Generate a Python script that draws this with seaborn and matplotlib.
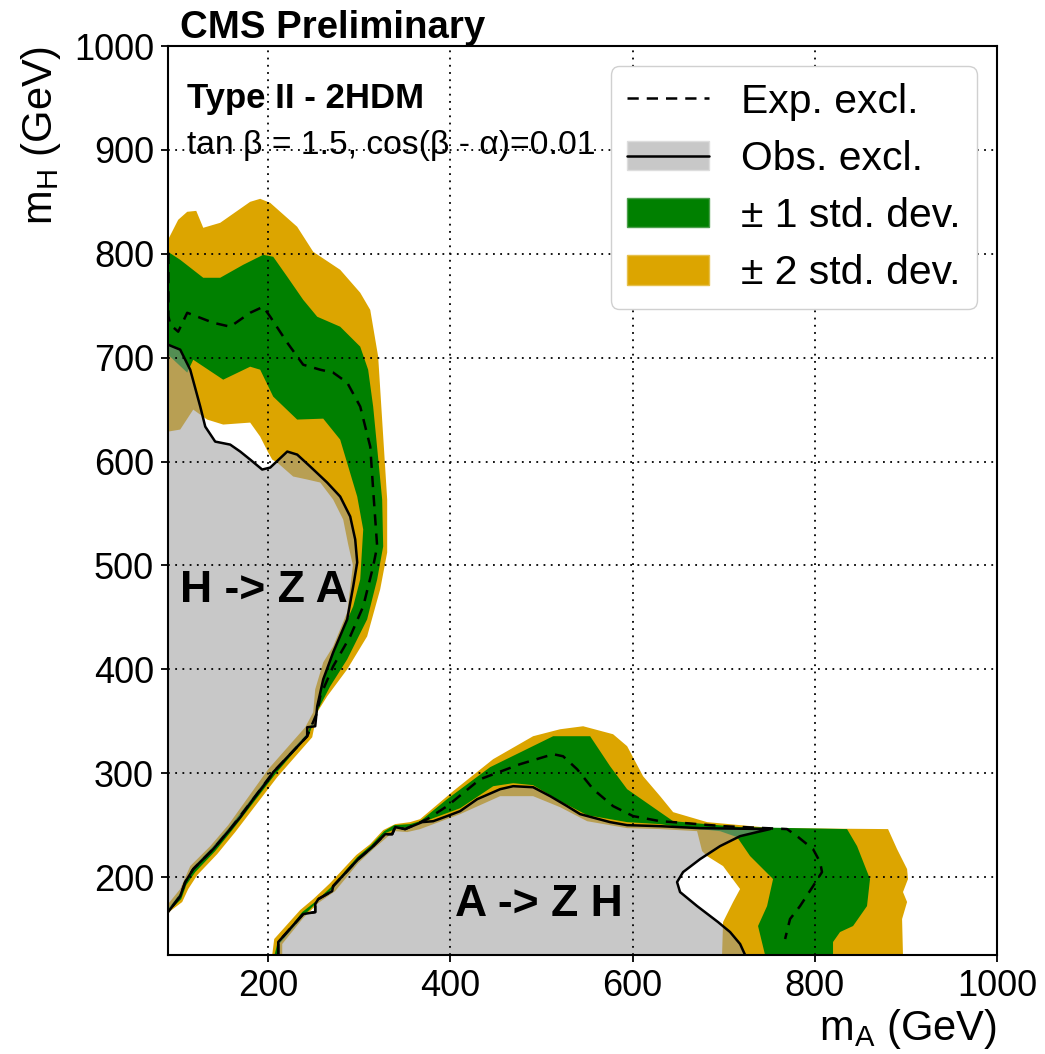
import numpy as np
import matplotlib
matplotlib.use("Agg")
import matplotlib.pyplot as plt
import seaborn as sns
from matplotlib.patches import Patch
from matplotlib.lines import Line2D

# ---------------------------------------------------------------------------
# Exclusion contours in the (mA, mH) plane, GeV
# ---------------------------------------------------------------------------

# H -> Z A : observed exclusion boundary
hza_obs_ma = [90, 103.4, 114.4, 125.4, 130.9, 141.8, 158.3, 169.3, 180.2, 193.4, 202.2, 220.9,
              231.8, 246.1, 264.7, 279.0, 290.0, 295.5, 297.7, 293.3, 286.7, 271.3, 260.4, 253.8,
              251.6, 242.8, 242.8, 205.5, 202.2, 183.5, 169.3, 158.3, 139.6, 117.7, 108.9, 103.4, 90]
hza_obs_mh = [712.5, 707.7, 688.4, 652.9, 633.6, 619.2, 616.3, 609.6, 601.9, 592.3, 594.2, 609.6,
              606.7, 595.2, 579.8, 566.3, 547.1, 525.0, 502.9, 479.8, 448.1, 416.3, 390.4, 364.4,
              345.2, 344.2, 335.6, 301.0, 296.2, 275.0, 257.7, 246.2, 226.9, 207.7, 195.2, 181.7, 166.3]

# H -> Z A : expected exclusion boundary
hza_exp_ma = [90.4, 90.4, 92.5, 101.2, 111.1, 139.6, 158.3, 180.2, 194.5, 202.2, 220.9, 238.4, 257.1,
              271.3, 286.7, 301.0, 312.0, 315.2, 319.6, 315.2, 304.3, 290.0, 271.3, 257.1, 253.8,
              242.8, 205.5, 183.5, 158.3, 139.6, 117.7, 108.9, 103.4, 90]
hza_exp_mh = [801, 740, 731.7, 725.0, 743.2, 733.6, 729.8, 743.2, 749.0, 739.4, 714.4, 693.2, 688.4,
              685.6, 676.0, 652.9, 614.4, 573.0, 518.3, 499.0, 460.6, 431.7, 402.9, 374.0, 358.6,
              335.6, 301.0, 275.0, 246.2, 226.9, 207.7, 195.2, 181.7, 166.3]

# H -> Z A : +-2 sigma band (outer edge, then inner edge)
hza_2s_out_ma = [90, 101.2, 111.1, 121.0, 128.7, 147.3, 180.2, 191.2, 202.2, 231.8, 249.4, 279.0,
                 301.0, 312.0, 320.7, 330.6, 330.6, 322.9, 308.6, 286.7, 264.7, 253.8, 248.3, 209.9,
                 163.8, 144.0, 122.1, 112.2, 105.6, 92.5, 90]
hza_2s_out_mh = [813.4, 832.7, 840.4, 841.3, 825.0, 829.8, 850.0, 852.9, 849.0, 826.0, 801.9, 784.6,
                 762.5, 746.0, 701.0, 563.4, 512.5, 476.9, 431.7, 400.0, 374.0, 358.6, 334.6, 296.2,
                 243.3, 222.1, 201.9, 188.5, 176.0, 167.3, 164.4]
hza_2s_in_ma = [90, 103.4, 114.4, 136.4, 156.1, 200.0, 240.6, 249.4, 251.6, 260.4, 271.3, 286.7,
                293.0, 287.8, 282.3, 271.3, 257.1, 242.8, 227.4, 209.9, 204.4, 200.0, 191.2, 180.2,
                150.6, 133.0, 117.7, 103.4, 90]
hza_2s_in_mh = [174.0, 188.5, 210.6, 229.8, 250.0, 303.8, 344.2, 358.6, 380.8, 406.7, 422.1, 454.8,
                500.0, 520.2, 544.2, 563.4, 579.8, 582.7, 585.6, 599.0, 601.9, 608.7, 624.0, 637.5,
                635.6, 640.4, 650.0, 630.8, 628.8]

# H -> Z A : +-1 sigma band
hza_1s_out_ma = [90, 103.4, 128.7, 147.3, 172.6, 194.5, 205.5, 220.9, 238.4, 253.8, 279.0, 301.0,
                 309.7, 315.2, 325.1, 326.2, 319.6, 308.6, 286.7, 268.0, 254.9, 245.0, 207.7, 160.5,
                 141.8, 119.9, 110.0, 104.5, 91.1]
hza_1s_out_mh = [801.9, 794.2, 776.9, 776.9, 789.4, 799.0, 797.1, 777.9, 755.7, 739.4, 729.8, 710.6,
                 688.4, 652.9, 563.4, 518.3, 486.5, 448.1, 409.6, 383.6, 361.5, 337.5, 299.0, 245.2,
                 225.0, 204.8, 192.3, 178.8, 167.3]
hza_1s_in_ma = [90, 103.4, 117.7, 139.6, 158.3, 202.2, 242.8, 253.8, 257.1, 264.7, 279.0, 293.3,
                301.0, 304.3, 297.7, 279.0, 260.4, 231.8, 205.5, 191.2, 180.2, 150.6, 117.7, 111.1, 90]
hza_1s_in_mh = [169.2, 184.6, 209.6, 229.8, 249.0, 299.0, 338.5, 359.6, 377.9, 402.9, 431.7, 460.6,
                486.5, 534.6, 566.3, 621.1, 641.3, 640.4, 662.5, 688.4, 691.3, 678.8, 698.0, 685.6, 702.9]

# A -> Z H : observed exclusion boundary
azh_obs_ma = [211, 211, 238.4, 251.6, 251.6, 254.9, 270.2, 271.3, 298.8, 314.1, 328.4, 336.1, 339.4,
              350.3, 358.0, 369.0, 381.1, 396.4, 410.7, 429.4, 454.6, 468.9, 490.8, 509.5, 528.1,
              542.4, 575.3, 594.0, 630.2, 674.1, 750.9, 736.6, 718.0, 696.0, 674.1, 655.4, 648.8,
              652.1, 670.8, 693.8, 707.0, 718.0, 723.5]
azh_obs_mh = [125, 137.5, 164.4, 166.3, 174.0, 178.8, 186.5, 191.3, 217.3, 228.8, 241.3, 241.3, 248.1,
              246.2, 249.0, 252.9, 253.8, 258.7, 263.5, 275.0, 284.6, 287.5, 286.5, 277.9, 268.3,
              260.6, 252.9, 250.0, 249.0, 247.1, 246.2, 243.3, 239.4, 229.8, 217.3, 204.8, 195.2,
              185.6, 172.1, 156.7, 147.1, 135.6, 125]

# A -> Z H : expected exclusion boundary
azh_exp_ma = [211, 211, 238.4, 251.6, 251.6, 254.9, 270.2, 271.3, 298.8, 314.1, 328.4, 336.1, 339.4,
              350.3, 374.5, 396.4, 432.6, 476.5, 512.8, 523.7, 539.1, 556.7, 578.6, 600.5, 630.2,
              644.5, 699.3, 769.5, 780.5, 798.1, 805.8, 807.9, 798.1, 783.8, 772.8, 767.4]
azh_exp_mh = [125, 137.5, 164.4, 166.3, 174.0, 178.8, 186.5, 191.3, 217.3, 228.8, 241.3, 241.3, 248.1,
              246.2, 255.8, 268.3, 294.2, 308.7, 318.3, 316.3, 303.8, 284.6, 268.3, 258.7, 253.8,
              252.9, 249.0, 246.2, 239.4, 226.9, 214.4, 204.8, 191.3, 172.1, 159.6, 140.4]

# A -> Z H : +-2 sigma band
azh_2s_out_ma = [204.4, 206.6, 235.1, 249.4, 268.0, 296.6, 311.9, 326.2, 339.4, 355.8, 366.8, 403.0,
                 446.9, 490.8, 520.4, 545.7, 578.6, 594.0, 611.5, 630.2, 644.5, 681.8, 754.2, 880.4,
                 890.3, 901.3, 902.3, 896.8, 901.3, 895.8, 896.8]
azh_2s_out_mh = [125, 140.4, 168.3, 178.8, 194.2, 221.2, 231.7, 245.2, 251.0, 252.9, 255.8, 282.7,
                 313.5, 335.6, 342.3, 345.2, 337.5, 326.0, 297.1, 277.9, 262.5, 252.9, 247.1, 246.2,
                 226.9, 207.7, 198.1, 185.6, 176.0, 159.6, 125]
azh_2s_in_ma = [698.2, 699.3, 710.3, 718.0, 699.3, 681.8, 676.3, 670.8, 630.2, 594.0, 550.1, 520.4,
                490.8, 454.6, 410.7, 366.8, 352.5, 339.4, 330.6, 314.1, 298.8, 273.5, 254.9, 238.4,
                215.4, 215.4]
azh_2s_in_mh = [125, 156.7, 176.0, 188.5, 210.6, 220.2, 225.0, 244.2, 246.2, 247.1, 253.8, 267.3,
                277.9, 277.9, 260.6, 246.2, 243.3, 244.2, 238.5, 226.0, 213.5, 186.5, 175.0, 160.6,
                135.6, 125]

# A -> Z H : +-1 sigma band
azh_1s_out_ma = [207.0, 209.9, 237.3, 252.7, 270.2, 297.7, 313.0, 327.3, 338.3, 355.8, 366.8, 396.4,
                 443.6, 512.8, 553.4, 575.3, 594.0, 630.2, 644.5, 718.0, 835.4, 846.4, 860.6, 857.3,
                 842.0, 827.7, 820.0, 820.0]
azh_1s_out_mh = [125, 135.6, 166.3, 176.9, 191.3, 219.2, 230.8, 244.2, 250.0, 251.0, 253.8, 275.0,
                 305.8, 335.6, 335.6, 306.7, 284.6, 262.5, 253.8, 248.1, 246.2, 229.8, 198.1, 172.1,
                 152.9, 147.1, 137.5, 125]
azh_1s_in_ma = [745.4, 737.7, 747.6, 754.2, 729.0, 714.7, 696.0, 652.1, 630.2, 594.0, 550.1, 520.4,
                490.8, 468.9, 447.0, 410.7, 381.1, 366.8, 352.5, 339.4, 328.4, 314.1, 298.8, 271.3,
                254.9, 238.4, 212.1, 212.1]
azh_1s_in_mh = [125, 152.9, 172.1, 198.1, 220.2, 238.5, 244.2, 248.1, 251.0, 252.9, 259.6, 273.1,
                288.5, 290.4, 287.5, 266.3, 256.7, 251.9, 248.1, 246.2, 242.3, 226.9, 215.4, 189.4,
                176.9, 162.5, 135.6, 125]

x_ticks = [200, 400, 600, 800, 1000]
y_ticks = [200, 300, 400, 500, 600, 700, 800, 900, 1000]
legend_labels = ["Exp. excl.", "Obs. excl.", "\u00b1 1 std. dev.", "\u00b1 2 std. dev."]

# ---------------------------------------------------------------------------
# Style
# ---------------------------------------------------------------------------
sns.set_theme(style="ticks")
plt.rcParams["font.family"] = ["Liberation Sans", "DejaVu Sans"]
plt.rcParams["mathtext.fontset"] = "custom"
plt.rcParams["mathtext.rm"] = "Liberation Sans"
plt.rcParams["mathtext.it"] = "Liberation Sans"
for key in ("text.color", "axes.labelcolor", "xtick.color", "ytick.color",
            "xtick.labelcolor", "ytick.labelcolor", "axes.edgecolor"):
    plt.rcParams[key] = "black"

YELLOW = "#dca500"
GREEN = "#008000"
GREY_FILL = "#9a9a9a"
GREY_ALPHA = 0.545
DASH = (0, (4.5, 3.2))
LW = 1.8

W, H = 1045, 1054
fig = plt.figure(figsize=(W / 100, H / 100), dpi=100)
ax = fig.add_axes([168 / W, 1 - 955 / H, 829 / W, 909 / H])


def band(ax, out_ma, out_mh, in_ma, in_mh, color):
    ax.fill(np.r_[out_ma, in_ma], np.r_[out_mh, in_mh], color=color, lw=0, zorder=1)


def contour(ax, ma, mh, **kw):
    sns.lineplot(x=np.asarray(ma), y=np.asarray(mh), sort=False, estimator=None,
                 ax=ax, color="black", lw=LW, zorder=3, **kw)


# uncertainty bands
band(ax, hza_2s_out_ma, hza_2s_out_mh, hza_2s_in_ma, hza_2s_in_mh, YELLOW)
band(ax, azh_2s_out_ma, azh_2s_out_mh, azh_2s_in_ma, azh_2s_in_mh, YELLOW)
band(ax, hza_1s_out_ma, hza_1s_out_mh, hza_1s_in_ma, hza_1s_in_mh, GREEN)
band(ax, azh_1s_out_ma, azh_1s_out_mh, azh_1s_in_ma, azh_1s_in_mh, GREEN)

# observed excluded regions (translucent grey)
ax.fill(np.r_[hza_obs_ma, [85, 85]], np.r_[hza_obs_mh, [166.3, 712.5]],
        color=GREY_FILL, alpha=GREY_ALPHA, lw=0, zorder=1.5)
ax.fill(azh_obs_ma, azh_obs_mh, color=GREY_FILL, alpha=GREY_ALPHA, lw=0, zorder=1.5)

# contour lines
contour(ax, hza_exp_ma, hza_exp_mh, linestyle=DASH)
contour(ax, azh_exp_ma, azh_exp_mh, linestyle=DASH)
contour(ax, hza_obs_ma, hza_obs_mh)
contour(ax, azh_obs_ma, azh_obs_mh)

ax.set_xlim(90, 1000)
ax.set_ylim(125, 1000)
ax.set_xticks(x_ticks)
ax.set_yticks(y_ticks)
ax.set_axisbelow(False)
ax.grid(True, color="black", linestyle=(0, (1, 3)), lw=1.3)
for s in ax.spines.values():
    s.set_linewidth(1.5)
    s.set_color("black")
    s.set_zorder(5)
ax.tick_params(direction="out", length=5, width=1.3, labelsize=26, pad=5,
               colors="black", top=False, right=False)

ax.set_xlabel(r"m$_{\mathrm{A}}$ (GeV)", fontsize=30, loc="right", labelpad=2)
ax.set_ylabel(r"m$_{\mathrm{H}}$ (GeV)", fontsize=30, loc="top", labelpad=8)

# annotations
ax.text(111, 940, "Type II - 2HDM", fontsize=25, fontweight="bold", va="baseline")
ax.text(111, 896, "tan \u03b2 = 1.5, cos(\u03b2 - \u03b1)=0.01", fontsize=24.2, va="baseline")
ax.text(103.5, 465, "H -> Z A", fontsize=32, fontweight="bold", va="baseline", zorder=4)
ax.text(405, 162.5, "A -> Z H", fontsize=32, fontweight="bold", va="baseline", zorder=4)
fig.text(180 / W, 1 - 38 / H, "CMS Preliminary", fontsize=27.6, fontweight="bold", va="baseline")

# legend
handles = [
    Line2D([], [], color="black", lw=LW, linestyle=DASH),
    (Patch(facecolor="#c8c8c8", edgecolor="#dddddd", lw=1),
     Line2D([], [], color="black", lw=LW)),
    Patch(facecolor=GREEN, edgecolor="#4c9f4c", lw=1),
    Patch(facecolor=YELLOW, edgecolor="#e6c04c", lw=1),
]
leg = ax.legend(handles, legend_labels, loc="upper right", fontsize=29.4, handlelength=2.0,
                handleheight=0.72, handletextpad=0.78, labelspacing=0.47, borderpad=0.4,
                frameon=True, fancybox=True, framealpha=1, edgecolor="#d0d0d0")
leg.set_zorder(6)

fig.savefig("out.png", dpi=100)
